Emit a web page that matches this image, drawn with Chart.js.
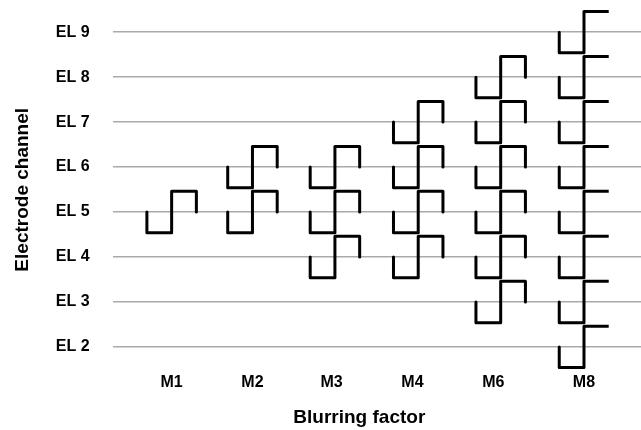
<!DOCTYPE html>
<html lang="en">
<head>
  <meta charset="UTF-8">
  <title>Electrode channel vs blurring factor</title>
  <script src="https://cdn.jsdelivr.net/npm/chart.js"></script>
  <style>
    html, body {
      margin: 0;
      padding: 0;
      background: #fff;
    }
    #wrap {
      width: 641px;
      height: 430px;
    }
  </style>
</head>
<body>
<div id="wrap">
  <canvas id="pulseChart"></canvas>
</div>

<script>
  // Blurring factors along the x axis
  const blurLabels = ['M1', 'M2', 'M3', 'M4', 'M6', 'M8'];
  // where each tick label sits, and where each column of pulses sits (x units)
  const labelPos = [0, 0.98, 1.94, 2.92, 3.9, 5];
  const columnPos = [0, 0.98, 1.98, 2.99, 3.99, 5];

  // Electrode channels on the y axis
  const channels = [2, 3, 4, 5, 6, 7, 8, 9];

  // Channels stimulated for each blurring factor
  const activeChannels = [
    [5],
    [5, 6],
    [4, 5, 6],
    [4, 5, 6, 7],
    [3, 4, 5, 6, 7, 8],
    [2, 3, 4, 5, 6, 7, 8, 9]
  ];

  // Biphasic pulse shape (offsets in axis units: time, amplitude)
  const pulseDx = [-0.3, -0.3, 0, 0, 0.3, 0.3];
  const pulseDy = [0, -0.46, -0.46, 0.46, 0.46, 0];

  // Build one line dataset per pulse
  const datasets = [];
  activeChannels.forEach((chs, col) => {
    chs.forEach(ch => {
      datasets.push({
        data: pulseDx.map((dx, i) => ({ x: columnPos[col] + dx, y: ch + pulseDy[i] })),
        showLine: true,
        borderColor: '#000',
        borderWidth: 3,
        borderJoinStyle: 'round',
        pointRadius: 0,
        tension: 0,
        clip: false
      });
    });
  });

  const gridColor = '#aaaaaa';
  const yMin = 1.487;
  const yMax = 9.502;
  const channelTicks = scale => { scale.ticks = channels.map(v => ({ value: v })); };

  new Chart(document.getElementById('pulseChart'), {
    type: 'scatter',
    data: { datasets: datasets },
    options: {
      responsive: true,
      maintainAspectRatio: false,
      animation: false,
      layout: { padding: 0 },
      plugins: {
        legend: { display: false },
        tooltip: { enabled: false }
      },
      scales: {
        x: {
          type: 'linear',
          min: -0.716,
          max: 5.267,
          afterBuildTicks: scale => { scale.ticks = labelPos.map(v => ({ value: v })); },
          grid: { display: false, drawTicks: false },
          border: { display: false },
          ticks: {
            autoSkip: false,
            maxRotation: 0,
            padding: 3,
            color: '#000',
            font: { family: 'Liberation Sans', size: 16, weight: 'bold' },
            callback: (v, i) => blurLabels[i]
          },
          title: {
            display: true,
            text: 'Blurring factor',
            color: '#000',
            font: { family: 'Liberation Sans', size: 19, weight: 'bold' },
            padding: { top: 11, bottom: 1 }
          }
        },
        y: {
          type: 'linear',
          position: 'left',
          min: yMin,
          max: yMax,
          afterBuildTicks: channelTicks,
          // invisible tick marks make the gap between labels and grid
          grid: { color: gridColor, lineWidth: 1.5, drawTicks: true, tickLength: 23, tickColor: 'rgba(0,0,0,0)' },
          border: { display: false },
          ticks: {
            padding: 0,
            color: '#000',
            font: { family: 'Liberation Sans', size: 16, weight: 'bold' },
            callback: v => 'EL ' + v
          },
          title: {
            display: true,
            text: 'Electrode channel',
            color: '#000',
            font: { family: 'Liberation Sans', size: 19, weight: 'bold' },
            padding: { top: 11, bottom: 22 }
          }
        },
        // right-hand axis only carries the grid lines on past the last column
        yRight: {
          type: 'linear',
          position: 'right',
          display: true,
          min: yMin,
          max: yMax,
          afterBuildTicks: channelTicks,
          grid: { color: gridColor, lineWidth: 1.5, drawOnChartArea: false, drawTicks: true, tickLength: 35 },
          border: { display: false },
          ticks: { display: false }
        }
      }
    }
  });
</script>
</body>
</html>
